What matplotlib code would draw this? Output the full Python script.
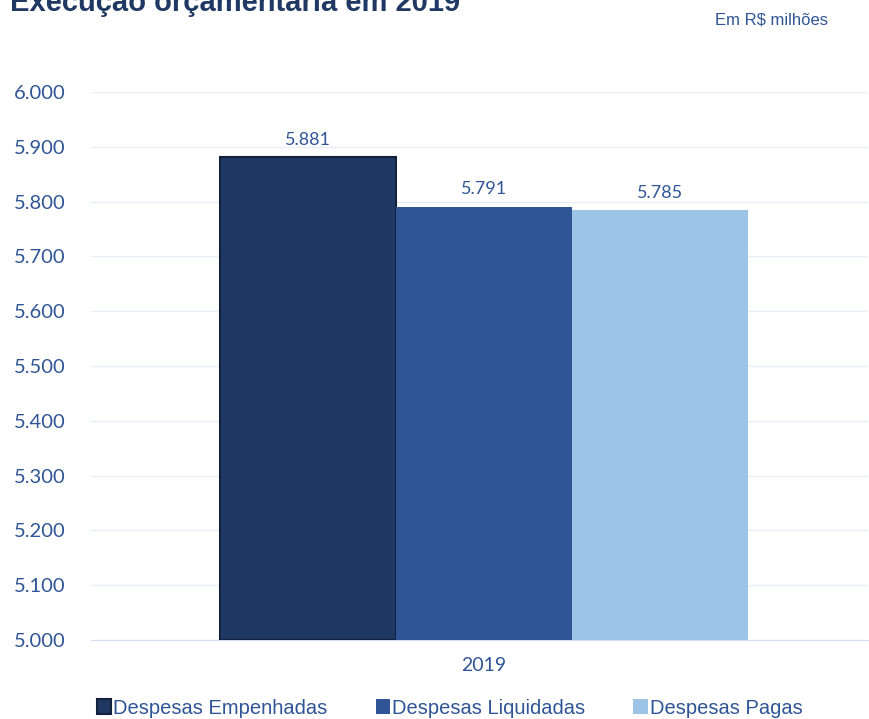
import numpy as np
import matplotlib.pyplot as plt

categories = ["2019"]
series = ["Despesas Empenhadas", "Despesas Liquidadas", "Despesas Pagas"]
values = [5881, 5791, 5785]
colors = ["#203864", "#2f5597", "#9dc3e6"]
yticks = np.arange(5000, 6001, 100)

txt = "#2f5597"
plt.rcParams['font.family'] = ['Liberation Sans', 'DejaVu Sans']

fig = plt.figure(figsize=(8.7, 7.19), dpi=100)
ax = fig.add_axes([0.1046, 0.1099, 0.893, 0.762])

w = 0.2265
x = np.arange(len(categories))
for i, (s, v, c) in enumerate(zip(series, values, colors)):
    pos = x + (i - 1) * w
    ec = "#14213d" if i == 0 else c
    lw = 1.5 if i == 0 else 0
    ax.bar(pos, v - 5000, bottom=5000, width=w, color=c, edgecolor=ec,
           linewidth=lw, label=s, zorder=3)
    ax.text(pos[0], v + 17, f"{v/1000:.3f}", ha="center", va="bottom",
            fontsize=13, color=txt, family="Lato")

ax.set_xlim(-0.5058, 0.4942)
ax.set_ylim(5000, 6000)
ax.set_yticks(yticks)
ax.set_yticklabels([f"{t/1000:.3f}" for t in yticks], family="Lato",
                   fontsize=14.5, color=txt)
ax.set_xticks(x)
ax.set_xticklabels(categories, family="Lato", fontsize=14, color=txt)
ax.tick_params(length=0, pad=12)
ax.tick_params(axis="y", pad=18)
ax.grid(axis="y", color="#e8eef7", linewidth=1, zorder=0)
for sp in ["top", "right", "left"]:
    ax.spines[sp].set_visible(False)
ax.spines["bottom"].set_color("#d6dff0")

fig.text(0.012, 1 - 11 / 719, "Execução orçamentária em 2019", fontsize=21,
         fontweight="bold", color="#203864", va="baseline")
fig.text(0.952, 1 - 20 / 719, "Em R$ milhões", fontsize=12, color=txt,
         ha="right", va="center")

leg = fig.legend(loc="center", bbox_to_anchor=(0.517, 1 - 708 / 719), ncol=3,
                 frameon=False, fontsize=14.5, handlelength=0.7, handleheight=0.7,
                 handletextpad=0.1, columnspacing=2.4)
for t in leg.get_texts():
    t.set_color(txt)

fig.savefig("out.png", dpi=100)
